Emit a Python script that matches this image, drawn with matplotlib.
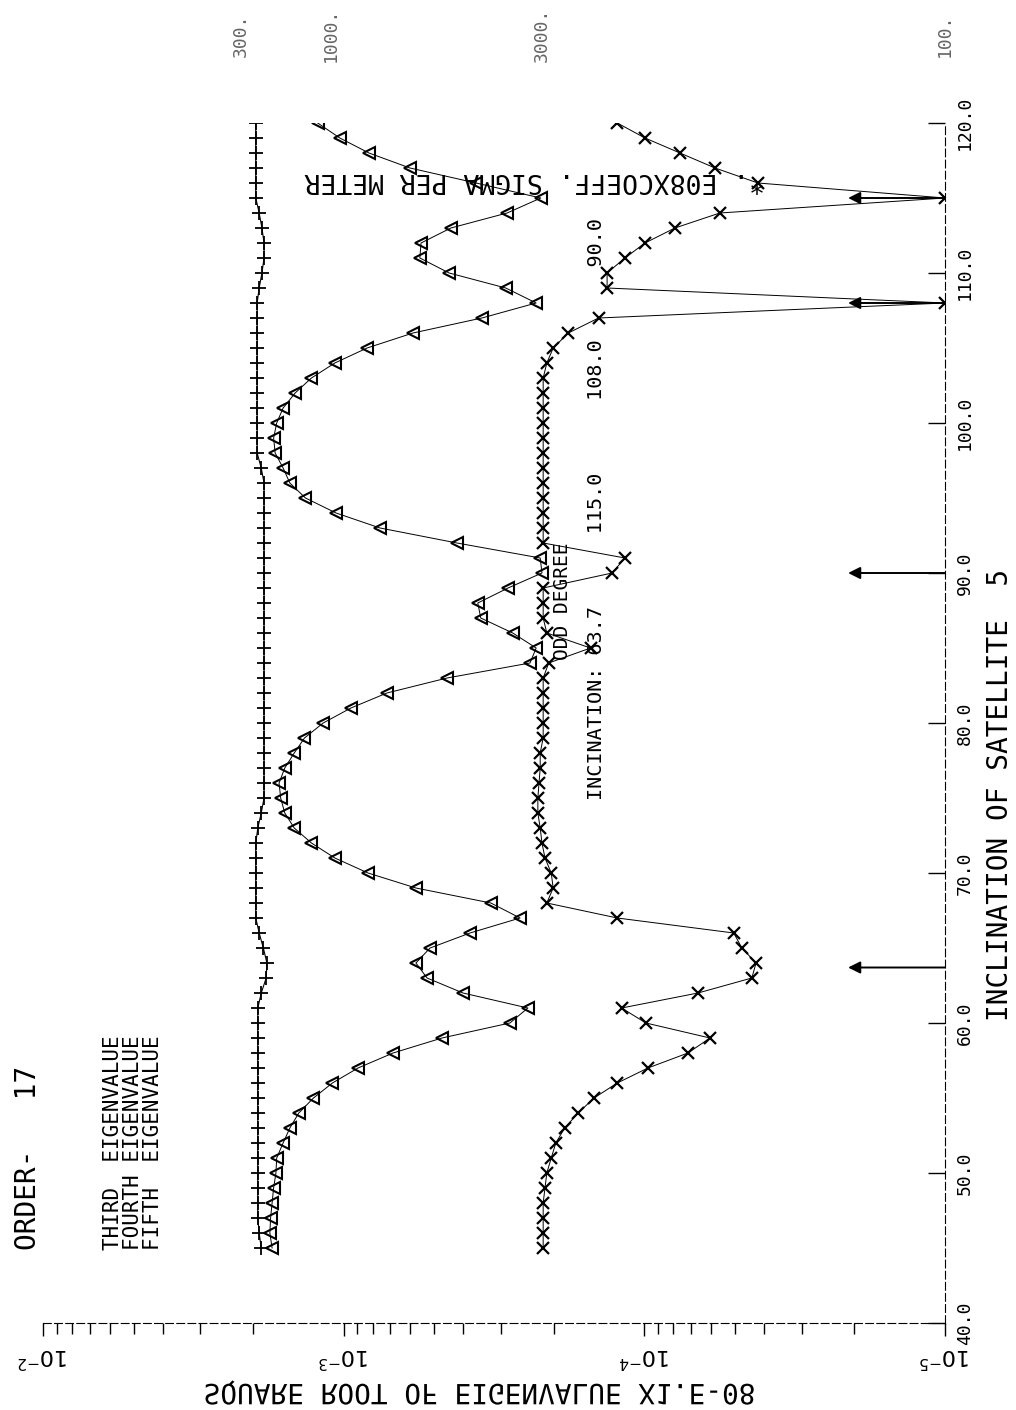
import numpy as np
import matplotlib.pyplot as plt
from matplotlib import patheffects
from matplotlib.transforms import Affine2D

# inclination of satellite 5 (deg), one solution per degree
inclination = np.arange(45, 121)

# square root of eigenvalue (x1.E-08) per inclination
third_eig = [1.88e-3, 1.91e-3, 1.93e-3, 1.93e-3, 1.93e-3, 1.93e-3, 1.93e-3, 1.93e-3,
             1.93e-3, 1.93e-3, 1.93e-3, 1.93e-3, 1.93e-3, 1.93e-3, 1.93e-3, 1.93e-3,
             1.93e-3, 1.88e-3, 1.81e-3, 1.80e-3, 1.85e-3, 1.91e-3, 1.96e-3, 1.96e-3,
             1.96e-3, 1.96e-3, 1.96e-3, 1.96e-3, 1.93e-3, 1.88e-3, 1.84e-3, 1.84e-3,
             1.84e-3, 1.84e-3, 1.84e-3, 1.84e-3, 1.84e-3, 1.84e-3, 1.84e-3, 1.84e-3,
             1.84e-3, 1.84e-3, 1.84e-3, 1.84e-3, 1.84e-3, 1.84e-3, 1.84e-3, 1.84e-3,
             1.84e-3, 1.84e-3, 1.84e-3, 1.84e-3, 1.88e-3, 1.94e-3, 1.94e-3, 1.94e-3,
             1.94e-3, 1.94e-3, 1.94e-3, 1.94e-3, 1.94e-3, 1.94e-3, 1.94e-3, 1.94e-3,
             1.91e-3, 1.87e-3, 1.84e-3, 1.84e-3, 1.87e-3, 1.91e-3, 1.96e-3, 1.96e-3,
             1.96e-3, 1.96e-3, 1.96e-3, 1.96e-3]

fourth_eig = [1.73e-3, 1.76e-3, 1.75e-3, 1.73e-3, 1.71e-3, 1.68e-3, 1.67e-3, 1.59e-3,
              1.51e-3, 1.41e-3, 1.26e-3, 1.09e-3, 8.96e-4, 6.85e-4, 4.71e-4, 2.80e-4,
              2.44e-4, 4.01e-4, 5.28e-4, 5.75e-4, 5.16e-4, 3.80e-4, 2.59e-4, 3.24e-4,
              5.75e-4, 8.30e-4, 1.07e-3, 1.28e-3, 1.46e-3, 1.57e-3, 1.62e-3, 1.64e-3,
              1.57e-3, 1.46e-3, 1.35e-3, 1.17e-3, 9.46e-4, 7.18e-4, 4.53e-4, 2.40e-4,
              2.29e-4, 2.74e-4, 3.50e-4, 3.58e-4, 2.84e-4, 2.19e-4, 2.22e-4, 4.20e-4,
              7.57e-4, 1.06e-3, 1.34e-3, 1.51e-3, 1.59e-3, 1.69e-3, 1.71e-3, 1.67e-3,
              1.59e-3, 1.45e-3, 1.28e-3, 1.07e-3, 8.36e-4, 5.88e-4, 3.47e-4, 2.29e-4,
              2.89e-4, 4.46e-4, 5.58e-4, 5.53e-4, 4.40e-4, 2.86e-4, 2.21e-4, 3.63e-4,
              6.02e-4, 8.24e-4, 1.03e-3, 1.22e-3]

fifth_eig = [2.17e-4, 2.17e-4, 2.17e-4, 2.17e-4, 2.14e-4, 2.11e-4, 2.04e-4, 1.97e-4,
             1.84e-4, 1.66e-4, 1.47e-4, 1.23e-4, 9.73e-5, 7.16e-5, 6.05e-5, 9.88e-5,
             1.19e-4, 6.63e-5, 4.39e-5, 4.25e-5, 4.74e-5, 5.04e-5, 1.23e-4, 2.11e-4,
             2.01e-4, 2.04e-4, 2.14e-4, 2.19e-4, 2.22e-4, 2.26e-4, 2.26e-4, 2.24e-4,
             2.22e-4, 2.22e-4, 2.17e-4, 2.17e-4, 2.17e-4, 2.17e-4, 2.17e-4, 2.08e-4,
             1.51e-4, 2.11e-4, 2.17e-4, 2.17e-4, 2.17e-4, 1.28e-4, 1.16e-4, 2.17e-4,
             2.17e-4, 2.17e-4, 2.17e-4, 2.17e-4, 2.17e-4, 2.17e-4, 2.17e-4, 2.17e-4,
             2.17e-4, 2.17e-4, 2.17e-4, 2.11e-4, 2.01e-4, 1.79e-4, 1.42e-4, 1.00e-5,
             1.33e-4, 1.33e-4, 1.16e-4, 9.95e-5, 7.91e-5, 5.61e-5, 1.00e-5, 4.19e-5,
             5.82e-5, 7.61e-5, 9.95e-5, 1.23e-4]

# critical inclinations marked by arrows, in the order printed
critical_incl = [63.7, 115.0, 108.0, 90.0]

order = 17
eig_names = ['THIRD', 'FOURTH', 'FIFTH']
top_labels = ['300.', '1000.', '3000.', '100.']
top_label_pos = [2.2e-3, 1.1e-3, 2.2e-4, 1.0e-5]

W, H = 1016, 1410
mono = 'DejaVu Sans Mono'


class MirrorY(patheffects.AbstractPathEffect):
    """Draw the text path mirrored top-to-bottom about its own centre line."""

    def draw_path(self, renderer, gc, tpath, affine, rgbFace=None):
        ext = tpath.get_extents(affine)
        cy = 0.5 * (ext.y0 + ext.y1)
        flip = affine + Affine2D().translate(0, -cy).scale(1, -1).translate(0, cy)
        renderer.draw_path(gc, tpath, flip, rgbFace)


def fxy(x, y):
    # pixel position -> figure fraction
    return x / W, 1 - y / H


fig = plt.figure(figsize=(W / 100, H / 100), dpi=100)
ax = fig.add_axes([43 / W, (H - 1323) / H, (945 - 43) / W, (1323 - 123) / H])

# Series
ax.plot(third_eig, inclination, color='k', lw=0.8, marker='+', ms=10, mew=1.3)
ax.plot(fourth_eig, inclination, color='k', lw=0.7, marker='<', ms=8.5,
        mfc='none', mew=1.5)
ax.plot(fifth_eig, inclination, color='k', lw=0.7, marker='x', ms=9, mew=1.6)

# Arrows at the critical inclinations
for inc in critical_incl:
    ax.annotate('', xy=(2.1e-5, inc), xytext=(1.0e-5, inc),
                arrowprops=dict(arrowstyle='-|>', color='k', lw=1.4,
                                mutation_scale=18, shrinkA=0, shrinkB=0))

ax.set_xscale('log')
ax.set_xlim(1e-2, 1e-5)
ax.set_ylim(40, 120)

for side in ['top', 'left']:
    ax.spines[side].set_visible(False)
for side in ['bottom', 'right']:
    ax.spines[side].set_linestyle((0, (7, 3)))
    ax.spines[side].set_linewidth(0.8)

# Log axis along the bottom
ax.set_xticks([1e-2, 1e-3, 1e-4, 1e-5],
              [r'$10^{-2}$', r'$10^{-3}$', r'$10^{-4}$', r'$10^{-5}$'])
ax.tick_params(axis='x', which='major', direction='out', length=9, width=1.0,
               labelsize=16, pad=6)
ax.tick_params(axis='x', which='minor', direction='out', length=8, width=1.0)
for lab in ax.get_xticklabels():
    lab.set_rotation(180)

# Inclination axis along the right
ax.yaxis.tick_right()
ax.set_yticks(np.arange(40, 121, 10))
ax.set_yticklabels(['%.1f' % v for v in np.arange(40, 121, 10)],
                   rotation=90, va='center', family=mono, fontsize=13)
ax.tick_params(axis='y', direction='in', length=12, width=1.0, pad=8)

fig.text(*fxy(480, 1393), 'SQUARE ROOT OF EIGENVALUE X1.E-08', family=mono,
         fontsize=20, ha='center', va='center', path_effects=[MirrorY()])
fig.text(*fxy(1000, 795), 'INCLINATION OF SATELLITE  5', family=mono,
         fontsize=20, rotation=90, ha='center', va='center')

# Header block
fig.text(*fxy(28, 1250), 'ORDER-   %d' % order, family=mono, fontsize=20,
         rotation=90, rotation_mode='anchor', ha='left', va='center')
fig.text(*fxy(133, 1250),
         '\n'.join('%-7sEIGENVALUE' % name for name in eig_names),
         family=mono, fontsize=15, linespacing=1.0, rotation=90,
         rotation_mode='anchor', ha='left', va='center', multialignment='left')

fig.text(*fxy(563, 660), 'ODD DEGREE', family=mono, fontsize=14, rotation=90,
         rotation_mode='anchor', ha='left', va='center')
fig.text(*fxy(597, 800),
         'INCINATION: ' + '      '.join('%.1f' % v for v in critical_incl),
         family=mono, fontsize=14.5, rotation=90, rotation_mode='anchor',
         ha='left', va='center')

fig.text(*fxy(765, 180), '*. E08XCOEFF. SIGMA PER METER', family=mono,
         fontsize=19, rotation=180, rotation_mode='anchor', ha='left',
         va='center')

for lab, pos in zip(top_labels, top_label_pos):
    xd = ax.transData.transform((pos, 100))[0]
    fig.text(xd / W, 1 - 35 / H, lab, family=mono, fontsize=13, rotation=90,
             ha='center', va='center', color='0.4')

fig.savefig('out.png', dpi=100, facecolor='white')
